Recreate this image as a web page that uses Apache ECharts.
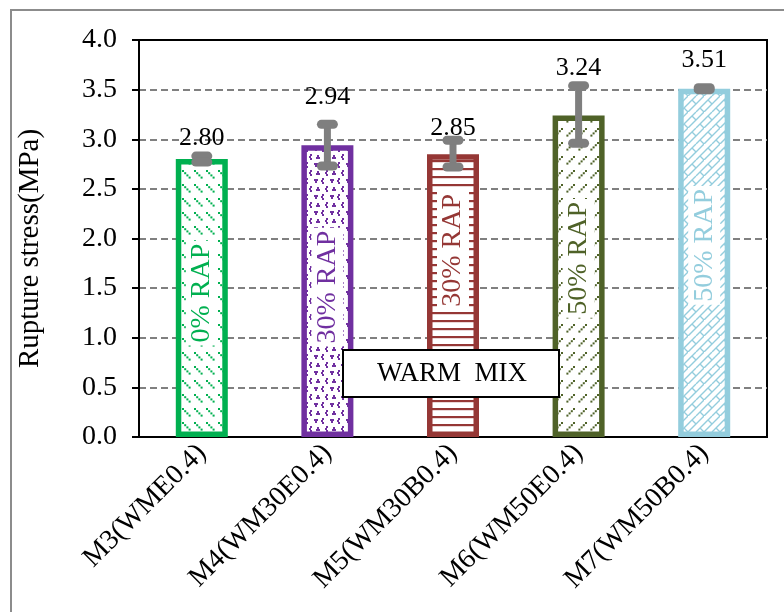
<!DOCTYPE html>
<html>
<head>
<meta charset="utf-8">
<script src="https://cdn.jsdelivr.net/npm/echarts@6/dist/echarts.min.js"></script>
<style>
html,body{margin:0;padding:0;background:#fff;}
#chart{width:784px;height:612px;}
</style>
</head>
<body>
<div id="chart"></div>
<script>
// ---- data ----
const categories = ['M3(WME0.4)', 'M4(WM30E0.4)', 'M5(WM30B0.4)', 'M6(WM50E0.4)', 'M7(WM50B0.4)'];
const values = [2.80, 2.94, 2.85, 3.24, 3.51];
const errLow = [2.77, 2.73, 2.72, 2.96, 3.50];
const errHigh = [2.83, 3.15, 2.99, 3.54, 3.52];
const rapLabels = ['0% RAP', '30% RAP', '30% RAP', '50% RAP', '50% RAP'];
const annotationText = 'WARM  MIX';
const yAxisName = 'Rupture stress(MPa)';

// ---- style / layout ----
const FONT = "'Liberation Serif','Times New Roman',serif";
const barColors = ['#00B050', '#7030A0', '#953735', '#4F6228', '#93CDDD'];
const valueLabelAt = [3.01, 3.42, 3.11, 3.72, 3.80];   // label centre, in axis units
const rapLabelAt = [1.45, 1.51, 1.88, 1.80, 1.93];     // label centre, in axis units

function makePattern(kind, color) {
  const c = document.createElement('canvas');
  const ctx = c.getContext('2d');
  if (kind === 0) { // green: rows of "\" dotted dashes
    c.width = 12; c.height = 14;
    ctx.fillStyle = '#fff'; ctx.fillRect(0, 0, c.width, c.height);
    ctx.fillStyle = color;
    for (let k = 0; k < 4; k++) ctx.fillRect(2 + k * 2.2, 2 + k * 2.2, 2, 2);
  } else if (kind === 1) { // purple: small chevrons
    c.width = 16; c.height = 16;
    ctx.fillStyle = '#fff'; ctx.fillRect(0, 0, 16, 16);
    ctx.fillStyle = color;
    const dots = [[2,2],[1,4],[2,6],[10,3],[11,5],[12,3],[6,10],[5,12],[6,14],[13,11],[14,13],[12,13]];
    dots.forEach(d => ctx.fillRect(d[0], d[1], 2, 2));
  } else if (kind === 2) { // red: horizontal lines
    c.width = 8; c.height = 8;
    ctx.fillStyle = '#fff'; ctx.fillRect(0, 0, 8, 8);
    ctx.fillStyle = color; ctx.fillRect(0, 0, 8, 2.2);
  } else if (kind === 3) { // olive: rows of "/" dotted dashes
    c.width = 12; c.height = 14;
    ctx.fillStyle = '#fff'; ctx.fillRect(0, 0, c.width, c.height);
    ctx.fillStyle = color;
    for (let k = 0; k < 4; k++) ctx.fillRect(9 - k * 2.2, 2 + k * 2.2, 2, 2);
  } else { // light blue: diagonal brick
    c.width = 16; c.height = 16;
    ctx.fillStyle = '#fff'; ctx.fillRect(0, 0, 16, 16);
    ctx.strokeStyle = color; ctx.lineWidth = 1.4;
    ctx.beginPath();
    ctx.moveTo(0, 16); ctx.lineTo(16, 0);
    ctx.moveTo(-8, 16); ctx.lineTo(8, 0);
    ctx.moveTo(8, 16); ctx.lineTo(24, 0);
    ctx.moveTo(4, 4); ctx.lineTo(8, 8);
    ctx.moveTo(12, 12); ctx.lineTo(16, 16);
    ctx.stroke();
  }
  return c;
}

const chart = echarts.init(document.getElementById('chart'), null, { renderer: 'canvas' });

const barData = values.map((v, i) => ({
  value: v,
  itemStyle: {
    color: { image: makePattern(i, barColors[i]), repeat: 'repeat' },
    borderColor: barColors[i],
    borderWidth: 5.5
  }
}));

const option = {
  animation: false,
  backgroundColor: '#fff',
  grid: { left: 139, right: 17, top: 40, bottom: 175, show: true, borderColor: '#000', borderWidth: 2, backgroundColor: 'transparent' },
  xAxis: {
    type: 'category',
    data: categories,
    axisLine: { lineStyle: { color: '#000', width: 2 } },
    axisTick: { show: false },
    axisLabel: { rotate: 45, margin: 12, color: '#000', fontFamily: FONT, fontSize: 28 }
  },
  yAxis: {
    type: 'value',
    min: 0, max: 4, interval: 0.5,
    name: yAxisName,
    nameLocation: 'middle',
    nameGap: 94,
    nameTextStyle: { color: '#000', fontFamily: FONT, fontSize: 29, padding: [0, 20, 0, 0] },
    axisLine: { show: true, lineStyle: { color: '#000', width: 2 } },
    axisTick: { show: true, inside: false, length: 7, lineStyle: { color: '#000', width: 2 } },
    axisLabel: { margin: 22, color: '#000', fontFamily: FONT, fontSize: 28, formatter: v => v.toFixed(1) },
    splitLine: { show: true, showMaxLine: false, lineStyle: { color: '#808080', width: 2, type: [7, 4] } }
  },
  series: [
    {
      type: 'bar',
      data: barData,
      barWidth: 52,
      z: 2
    },
    {
      type: 'custom',
      z: 5,
      data: errLow.map((l, i) => [i, l, errHigh[i]]),
      renderItem: function (params, api) {
        const lo = api.coord([api.value(0), api.value(1)]);
        const hi = api.coord([api.value(0), api.value(2)]);
        const x = lo[0];
        const st = { stroke: '#7F7F7F', lineWidth: 7 };
        const cap = { stroke: '#7F7F7F', lineWidth: 9, lineCap: 'round' };
        return {
          type: 'group',
          children: [
            { type: 'line', shape: { x1: x, y1: hi[1], x2: x, y2: lo[1] }, style: st },
            { type: 'line', shape: { x1: x - 6, y1: hi[1], x2: x + 6, y2: hi[1] }, style: cap },
            { type: 'line', shape: { x1: x - 6, y1: lo[1], x2: x + 6, y2: lo[1] }, style: cap }
          ]
        };
      }
    },
    {
      type: 'custom',
      z: 6,
      data: values.map((v, i) => [i, v]),
      renderItem: function (params, api) {
        const i = params.dataIndex;
        const p = api.coord([api.value(0), valueLabelAt[i]]);
        return {
          type: 'text',
          style: {
            text: values[i].toFixed(2), x: p[0], y: p[1],
            align: 'center', verticalAlign: 'middle',
            font: '26px ' + FONT, fill: '#000'
          }
        };
      }
    },
    {
      type: 'custom',
      z: 6,
      data: rapLabels.map((t, i) => [i, values[i]]),
      renderItem: function (params, api) {
        const i = params.dataIndex;
        const p = api.coord([api.value(0), rapLabelAt[i]]);
        return {
          type: 'text',
          x: p[0], y: p[1],
          rotation: Math.PI / 2,
          style: {
            text: rapLabels[i], x: 0, y: 0,
            align: 'center', verticalAlign: 'middle',
            font: '28px ' + FONT, fill: barColors[i],
            backgroundColor: '#fff', padding: [2, 3]
          }
        };
      }
    }
  ],
  graphic: [
    {
      type: 'rect', z: -10, silent: true,
      shape: { x: 11, y: 10, width: 800, height: 700 },
      style: { fill: 'none', stroke: '#8C8C8C', lineWidth: 2 }
    },
    {
      type: 'rect', z: 200, zlevel: 1, silent: true,
      shape: { x: 343, y: 350, width: 216, height: 47 },
      style: { fill: '#fff', stroke: '#000', lineWidth: 2 }
    },
    {
      type: 'text', z: 201, zlevel: 1, silent: true,
      x: 452, y: 374,
      style: { text: annotationText, x: 0, y: 0, align: 'center', verticalAlign: 'middle', font: '27px ' + FONT, fill: '#000' }
    }
  ]
};
chart.setOption(option);
</script>
</body>
</html>
